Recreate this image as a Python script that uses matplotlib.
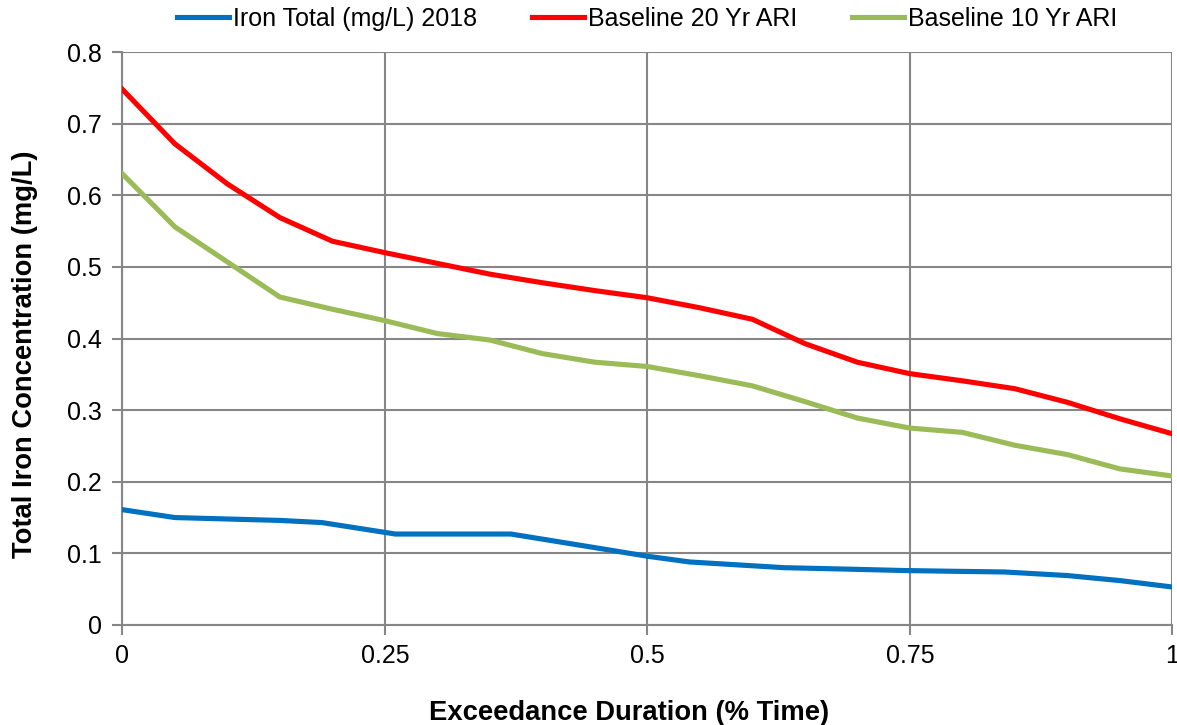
import matplotlib
matplotlib.use("Agg")
import matplotlib.pyplot as plt
from matplotlib.ticker import FuncFormatter

plt.rcParams['font.family'] = ['Liberation Sans', 'DejaVu Sans']

# exceedance duration (fraction of time)
x_base = [0.0, 0.05, 0.1, 0.15, 0.2, 0.25, 0.3, 0.35, 0.4, 0.45, 0.5,
          0.55, 0.6, 0.65, 0.7, 0.75, 0.8, 0.85, 0.9, 0.95, 1.0]
red_20yr = [0.748, 0.672, 0.616, 0.569, 0.536, 0.520, 0.505, 0.490, 0.478, 0.467, 0.457,
            0.443, 0.427, 0.393, 0.367, 0.351, 0.341, 0.330, 0.311, 0.288, 0.267]
green_10yr = [0.630, 0.556, 0.507, 0.458, 0.441, 0.425, 0.407, 0.398, 0.379, 0.367, 0.361,
              0.348, 0.334, 0.312, 0.289, 0.275, 0.269, 0.251, 0.238, 0.218, 0.208]

x_iron = [0.0, 0.05, 0.1, 0.15, 0.19, 0.26, 0.37, 0.45, 0.5, 0.54, 0.63, 0.69,
          0.745, 0.79, 0.84, 0.9, 0.95, 1.0]
iron_2018 = [0.161, 0.150, 0.148, 0.146, 0.143, 0.127, 0.127, 0.108, 0.096, 0.088, 0.080, 0.078,
             0.076, 0.075, 0.074, 0.069, 0.062, 0.053]

x_ticks = [0, 0.25, 0.5, 0.75, 1]
y_ticks = [0, 0.1, 0.2, 0.3, 0.4, 0.5, 0.6, 0.7, 0.8]

fig = plt.figure(figsize=(11.77, 7.25), dpi=100)
ax = fig.add_axes([0.104, 0.138, 0.892, 0.790])

ax.plot(x_iron, iron_2018, color='#0070C0', lw=3.7, label='Iron Total (mg/L) 2018',
        solid_joinstyle='round', zorder=3)
ax.plot(x_base, red_20yr, color='#FF0000', lw=3.7, label='Baseline 20 Yr ARI',
        solid_joinstyle='round', zorder=3)
ax.plot(x_base, green_10yr, color='#9BBB59', lw=3.7, label='Baseline 10 Yr ARI',
        solid_joinstyle='round', zorder=3)

ax.set_xlim(0, 1)
ax.set_ylim(0, 0.8)
ax.set_xticks(x_ticks)
ax.set_yticks(y_ticks)
ax.xaxis.set_major_formatter(FuncFormatter(lambda v, p: f"{v:g}"))
ax.yaxis.set_major_formatter(FuncFormatter(lambda v, p: f"{v:g}"))
ax.grid(True, color='#868686', lw=1.5)
ax.set_axisbelow(True)

for s in ['top', 'right']:
    ax.spines[s].set_visible(False)
for s in ['left', 'bottom']:
    ax.spines[s].set_color('#868686')
    ax.spines[s].set_linewidth(1.5)
ax.tick_params(axis='both', colors='#868686', length=7, width=1.5, labelsize=18,
               labelcolor='black')
ax.tick_params(axis='x', pad=7)
ax.tick_params(axis='y', pad=8)

ax.set_xlabel('Exceedance Duration (% Time)', fontsize=19.7, fontweight='bold')
ax.set_ylabel('Total Iron Concentration (mg/L)', fontsize=19.7, fontweight='bold')
ax.xaxis.set_label_coords(0.483, -0.131)
ax.yaxis.set_label_coords(-0.080, 0.473)

ax.legend(loc='center', bbox_to_anchor=(0.5, 1.058), ncol=3, frameon=False,
          fontsize=18, handlelength=2.08, handletextpad=0.16, columnspacing=2.2,
          borderaxespad=0.0)

fig.savefig('out.png', dpi=100)
